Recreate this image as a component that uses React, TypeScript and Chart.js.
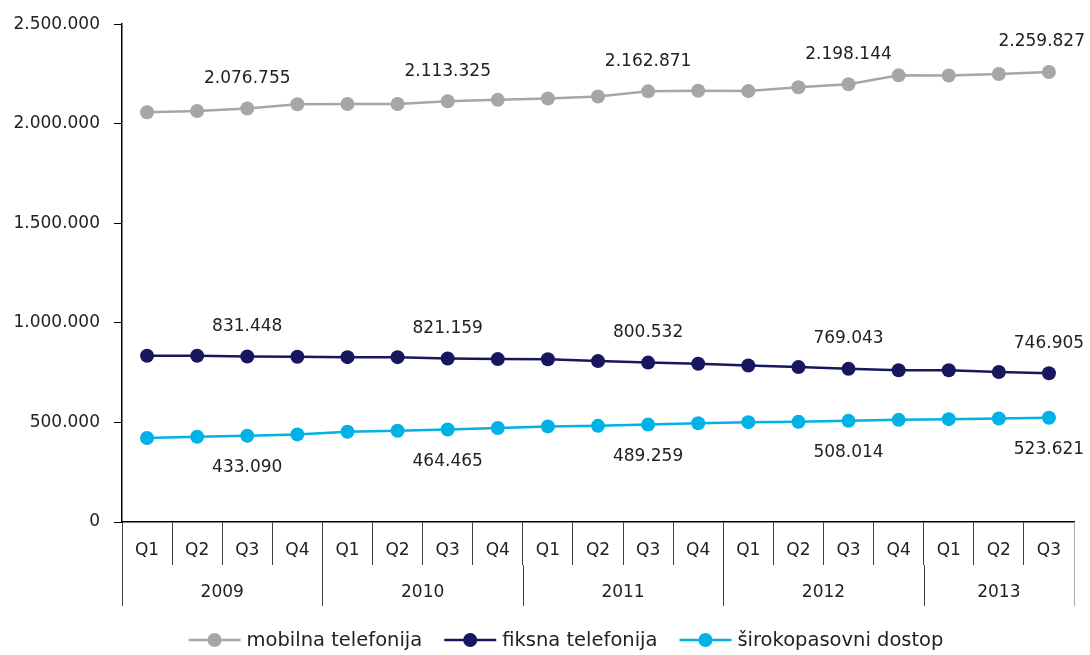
import React, { useEffect, useRef } from 'react';
import { Chart, registerables } from 'chart.js';

Chart.register(...registerables);

const quarters = ['Q1', 'Q2', 'Q3', 'Q4', 'Q1', 'Q2', 'Q3', 'Q4', 'Q1', 'Q2', 'Q3', 'Q4', 'Q1', 'Q2', 'Q3', 'Q4', 'Q1', 'Q2', 'Q3'];
const years = ['2009', '2010', '2011', '2012', '2013'];
const quartersPerYear = [4, 4, 4, 4, 3];

const mobilna = [2058000, 2064000, 2076755, 2098000, 2099000, 2099000, 2113325, 2120000, 2127000, 2137000, 2162871, 2166000, 2164000, 2183000, 2198144, 2243000, 2242000, 2250000, 2259827];
const fiksna = [835000, 835000, 831448, 830000, 828000, 828000, 821159, 818000, 817000, 808000, 800532, 795000, 786000, 778000, 769043, 762000, 762000, 753000, 746905];
const sirokopasovni = [421700, 428000, 433090, 440000, 453000, 458000, 464465, 472000, 480000, 483000, 489259, 496000, 501500, 503000, 508014, 513000, 516500, 520000, 523621];

const seriesLabels = ['mobilna telefonija', 'fiksna telefonija', 'širokopasovni dostop'];
const seriesColors = ['#a6a6a6', '#16175e', '#00b2e6'];
const labelIndices = [2, 6, 10, 14, 18];
const labelAbove = [true, true, false];

const Y_MIN = 0;
const Y_MAX = 2500000;
const Y_STEP = 500000;

const NUM_FONT = "'DejaVu Sans', sans-serif";
const TEXT_COLOR = '#222222';

const fmt = (v: number) => Math.round(v).toString().replace(/\B(?=(\d{3})+(?!\d))/g, '.');

const valueLabels = {
  id: 'valueLabels',
  afterDatasetsDraw(chart: any) {
    const ctx = chart.ctx;
    ctx.save();
    ctx.font = `17px ${NUM_FONT}`;
    ctx.fillStyle = TEXT_COLOR;
    ctx.textAlign = 'center';
    ctx.textBaseline = 'middle';
    chart.data.datasets.forEach((ds: any, di: number) => {
      const meta = chart.getDatasetMeta(di);
      labelIndices.forEach((i) => {
        const pt = meta.data[i];
        if (!pt) return;
        const text = fmt(ds.data[i]);
        const w = ctx.measureText(text).width;
        const x = Math.min(pt.x, chart.width - 5 - w / 2);
        const y = pt.y + (labelAbove[di] ? -30 : 32);
        ctx.fillText(text, x, y);
      });
    });
    ctx.restore();
  },
};

const yearRow = {
  id: 'yearRow',
  afterDraw(chart: any) {
    const xs = chart.scales.x;
    const ctx = chart.ctx;
    const half = (xs.getPixelForValue(1) - xs.getPixelForValue(0)) / 2;
    const top = chart.chartArea.bottom;
    const qBottom = top + 43;
    const yBottom = top + 84;
    ctx.save();
    ctx.font = `17px ${NUM_FONT}`;
    ctx.fillStyle = TEXT_COLOR;
    ctx.textAlign = 'center';
    ctx.textBaseline = 'middle';
    let start = 0;
    const bounds: number[] = [];
    years.forEach((yr, k) => {
      const left = xs.getPixelForValue(start) - half;
      const right = xs.getPixelForValue(start + quartersPerYear[k] - 1) + half;
      bounds.push(left);
      ctx.fillText(yr, (left + right) / 2, top + 71);
      start += quartersPerYear[k];
      if (k === years.length - 1) bounds.push(right);
    });
    bounds.forEach((bx, k) => {
      ctx.beginPath();
      ctx.strokeStyle = k === bounds.length - 1 ? '#aaaaaa' : '#404040';
      ctx.lineWidth = 1;
      const px = Math.round(bx) + 0.5;
      ctx.moveTo(px, k === bounds.length - 1 ? top : qBottom);
      ctx.lineTo(px, yBottom);
      ctx.stroke();
    });
    ctx.restore();
  },
};

const customLegend = {
  id: 'customLegend',
  afterDraw(chart: any) {
    const ctx = chart.ctx;
    ctx.save();
    ctx.font = `19.5px ${NUM_FONT}`;
    const lineW = 52;
    const gapText = 6;
    const gapItem = 22;
    const items = chart.data.datasets.map((ds: any) => ({
      label: ds.label,
      color: ds.borderColor,
      w: lineW + gapText + ctx.measureText(ds.label).width,
    }));
    const total = items.reduce((s: number, it: any) => s + it.w, 0) + gapItem * (items.length - 1);
    let x = 566 - total / 2;
    const y = 640;
    items.forEach((it: any) => {
      ctx.strokeStyle = it.color;
      ctx.lineWidth = 2.5;
      ctx.beginPath();
      ctx.moveTo(x, y);
      ctx.lineTo(x + lineW, y);
      ctx.stroke();
      ctx.fillStyle = it.color;
      ctx.beginPath();
      ctx.arc(x + lineW / 2, y, 7, 0, Math.PI * 2);
      ctx.fill();
      ctx.fillStyle = TEXT_COLOR;
      ctx.textAlign = 'left';
      ctx.textBaseline = 'middle';
      ctx.fillText(it.label, x + lineW + gapText, y + 1);
      x += it.w + gapItem;
    });
    ctx.restore();
  },
};

export default function App() {
  const canvasRef = useRef<HTMLCanvasElement | null>(null);

  useEffect(() => {
    document.body.style.margin = '0';
    const canvas = canvasRef.current;
    if (!canvas) return;
    const series = [mobilna, fiksna, sirokopasovni];
    const chart = new Chart(canvas, {
      type: 'line',
      data: {
        labels: quarters,
        datasets: series.map((data, i) => ({
          label: seriesLabels[i],
          data,
          borderColor: seriesColors[i],
          backgroundColor: seriesColors[i],
          pointBackgroundColor: seriesColors[i],
          pointBorderWidth: 0,
          pointRadius: 7,
          borderWidth: 2.5,
          tension: 0,
          fill: false,
        })),
      },
      options: {
        animation: false,
        responsive: false,
        maintainAspectRatio: false,
        layout: { padding: { top: 23, right: 16, bottom: 0, left: 0 } },
        plugins: {
          legend: { display: false },
          tooltip: { enabled: false },
        },
        scales: {
          x: {
            type: 'category',
            offset: true,
            grid: {
              offset: true,
              drawOnChartArea: false,
              drawTicks: true,
              tickLength: 43,
              color: '#404040',
              lineWidth: 1,
            },
            border: { display: true, color: '#000000', width: 1.5 },
            ticks: {
              font: { family: NUM_FONT, size: 17 },
              color: TEXT_COLOR,
              padding: -25,
              maxRotation: 0,
              autoSkip: false,
            },
            afterFit: (s: any) => {
              s.height = 133;
            },
          },
          y: {
            min: Y_MIN,
            max: Y_MAX,
            ticks: {
              stepSize: Y_STEP,
              callback: (v: any) => fmt(Number(v)),
              font: { family: NUM_FONT, size: 17 },
              color: TEXT_COLOR,
              padding: 14,
            },
            grid: { drawOnChartArea: false, tickLength: 8, color: '#000000' },
            border: { color: '#000000', width: 1.5 },
            afterFit: (s: any) => {
              s.width = 122;
            },
          },
        },
      },
      plugins: [valueLabels, yearRow, customLegend],
    });
    return () => chart.destroy();
  }, []);

  return (
    <div style={{ width: 1090, height: 655 }}>
      <canvas ref={canvasRef} width={1090} height={655} style={{ display: 'block' }} />
    </div>
  );
}
